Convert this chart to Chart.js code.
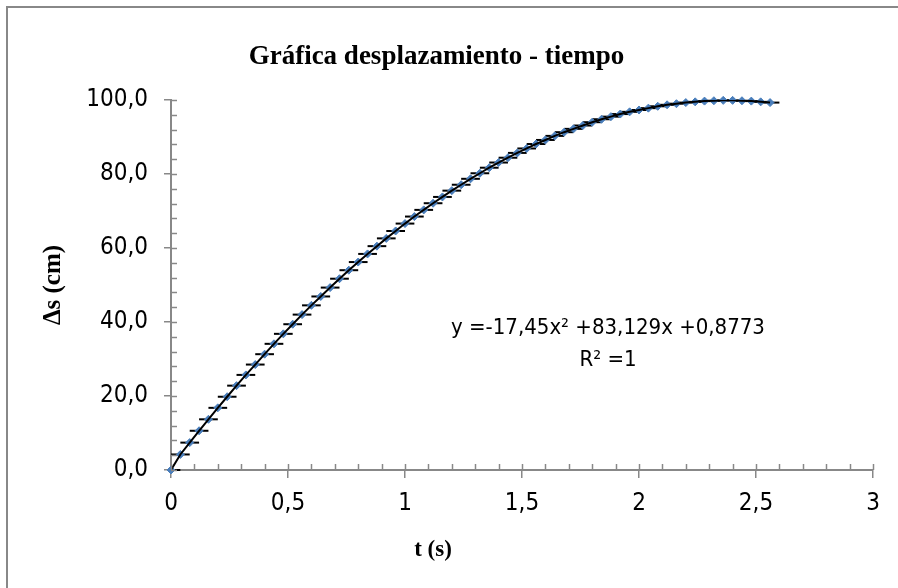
<!DOCTYPE html>
<html lang="es">
<head>
  <meta charset="UTF-8" />
  <title>Gráfica desplazamiento - tiempo</title>
  <script src="https://cdn.jsdelivr.net/npm/chart.js"></script>
  <style>
    html, body { margin: 0; padding: 0; background: #ffffff; }
    canvas { display: block; }
  </style>
</head>
<body>
  <canvas id="graficaDesplazamiento" width="898" height="588"></canvas>

  <script>
    // datos (t en s, desplazamiento en cm)
    var tiempos = [0.00, 0.04, 0.08, 0.12, 0.16, 0.20, 0.24, 0.28, 0.32, 0.36, 0.40, 0.44, 0.48,
      0.52, 0.56, 0.60, 0.64, 0.68, 0.72, 0.76, 0.80, 0.84, 0.88, 0.92, 0.96, 1.00, 1.04, 1.08,
      1.12, 1.16, 1.20, 1.24, 1.28, 1.32, 1.36, 1.40, 1.44, 1.48, 1.52, 1.56, 1.60, 1.64, 1.68,
      1.72, 1.76, 1.80, 1.84, 1.88, 1.92, 1.96, 2.00, 2.04, 2.08, 2.12, 2.16, 2.20, 2.24, 2.28,
      2.32, 2.36, 2.40, 2.44, 2.48, 2.52, 2.56];
    var desplazamientos = [0.0, 4.2, 7.4, 10.6, 13.7, 16.8, 19.8, 22.8, 25.7, 28.5, 31.3, 34.1, 36.8,
      39.4, 42.0, 44.5, 46.9, 49.3, 51.7, 54.0, 56.2, 58.4, 60.5, 62.6, 64.6, 66.6, 68.5, 70.3,
      72.1, 73.8, 75.5, 77.1, 78.7, 80.2, 81.7, 83.1, 84.4, 85.7, 86.9, 88.1, 89.2, 90.3, 91.3,
      92.2, 93.1, 94.0, 94.8, 95.5, 96.2, 96.8, 97.3, 97.8, 98.3, 98.7, 99.0, 99.3, 99.5, 99.7,
      99.8, 99.9, 99.9, 99.8, 99.7, 99.5, 99.3];
    var errorTiempo = 0.04;
    var ticksX = [0, 0.5, 1, 1.5, 2, 2.5, 3];
    var ticksY = [0, 20, 40, 60, 80, 100];
    var ecuacion = ['y =-17,45x² +83,129x +0,8773', 'R² =1'];
    var tituloX = 't (s)';
    var tituloY = 'Δs (cm)';
    var titulo = 'Gráfica desplazamiento - tiempo';

    var fuenteNumeros = "'DejaVu Sans Condensed', 'DejaVu Sans', sans-serif";
    var fuenteTitulos = "'Liberation Serif', 'Times New Roman', serif";
    var gris = '#888888';

    var puntos = [];
    for (var i = 0; i < tiempos.length; i++) {
      puntos.push({ x: tiempos[i], y: desplazamientos[i] });
    }

    function conComa(v) {
      return String(v).replace('.', ',');
    }

    var extras = {
      id: 'extras',
      beforeDraw: function (chart) {
        var ctx = chart.ctx;
        ctx.save();
        ctx.strokeStyle = gris;
        ctx.lineWidth = 2;
        ctx.strokeRect(7, 7, 1000, 1000);
        ctx.restore();
      },
      beforeDatasetsDraw: function (chart) {
        // barras de error horizontales
        var ctx = chart.ctx;
        var sx = chart.scales.x;
        var sy = chart.scales.y;
        var a = chart.chartArea;
        ctx.save();
        ctx.beginPath();
        ctx.rect(a.left, a.top - 5, a.right - a.left, a.bottom - a.top + 10);
        ctx.clip();
        ctx.strokeStyle = '#000000';
        ctx.lineWidth = 2;
        for (var i = 0; i < tiempos.length; i++) {
          var y = sy.getPixelForValue(desplazamientos[i]);
          ctx.beginPath();
          ctx.moveTo(sx.getPixelForValue(tiempos[i] - errorTiempo), y);
          ctx.lineTo(sx.getPixelForValue(tiempos[i] + errorTiempo), y);
          ctx.stroke();
        }
        ctx.restore();
      },
      afterDraw: function (chart) {
        var ctx = chart.ctx;
        var sx = chart.scales.x;
        var sy = chart.scales.y;
        var a = chart.chartArea;
        ctx.save();
        ctx.strokeStyle = gris;
        ctx.lineWidth = 1.5;
        // marcas menores hacia dentro
        var v, p;
        for (v = 0; v <= 3.0001; v += 0.1) {
          p = Math.round(sx.getPixelForValue(v)) + 0.5;
          ctx.beginPath();
          ctx.moveTo(p, a.bottom);
          ctx.lineTo(p, a.bottom - 6);
          ctx.stroke();
        }
        for (v = 0; v <= 100.001; v += 4) {
          p = Math.round(sy.getPixelForValue(v)) + 0.5;
          ctx.beginPath();
          ctx.moveTo(a.left, p);
          ctx.lineTo(a.left + 6, p);
          ctx.stroke();
        }

        ctx.fillStyle = '#000000';
        ctx.textAlign = 'center';
        ctx.textBaseline = 'middle';
        ctx.font = 'bold 23px ' + fuenteTitulos;
        ctx.fillText(tituloX, 433, 550);

        ctx.font = '22px ' + fuenteNumeros;
        ctx.textBaseline = 'alphabetic';
        ctx.fillText(ecuacion[0], 608, 334);
        ctx.fillText(ecuacion[1], 608, 366);
        ctx.restore();
      }
    };

    var ctxGrafica = document.getElementById('graficaDesplazamiento').getContext('2d');
    new Chart(ctxGrafica, {
      type: 'scatter',
      data: {
        datasets: [{
          label: 'Tendencia',
          data: puntos,
          showLine: true,
          borderColor: '#000000',
          borderWidth: 2,
          pointRadius: 0,
          pointHoverRadius: 0,
          fill: false,
          order: 0
        }, {
          label: 'Δs',
          data: puntos,
          pointStyle: 'rectRot',
          pointRadius: 4,
          backgroundColor: '#4a7ebb',
          borderColor: '#4a7ebb',
          borderWidth: 1,
          clip: false,
          order: 1
        }]
      },
      options: {
        responsive: false,
        animation: false,
        layout: { padding: { left: 0, top: 0, right: 25, bottom: 0 } },
        plugins: {
          legend: { display: false },
          tooltip: { enabled: false },
          title: {
            display: true,
            text: titulo,
            color: '#000000',
            font: { family: fuenteTitulos, size: 27, weight: 'bold' },
            padding: { top: 41, bottom: 26.6 }
          }
        },
        scales: {
          x: {
            type: 'linear',
            min: 0,
            max: 3,
            afterBuildTicks: function (scale) {
              scale.ticks = ticksX.map(function (v) { return { value: v }; });
            },
            afterFit: function (scale) { scale.height = 118; },
            grid: { drawOnChartArea: false, drawTicks: true, tickLength: 8, color: gris, lineWidth: 1.5 },
            border: { color: gris, width: 2 },
            ticks: {
              color: '#000000',
              padding: 11,
              font: { family: fuenteNumeros, size: 24 },
              callback: function (v) { return conComa(v); }
            }
          },
          y: {
            type: 'linear',
            min: 0,
            max: 100,
            afterBuildTicks: function (scale) {
              scale.ticks = ticksY.map(function (v) { return { value: v }; });
            },
            afterFit: function (scale) { scale.width = 171; },
            grid: { drawOnChartArea: false, drawTicks: true, tickLength: 7, color: gris, lineWidth: 1.5 },
            border: { color: gris, width: 2 },
            title: {
              display: true,
              text: tituloY,
              color: '#000000',
              font: { family: fuenteTitulos, size: 25, weight: 'bold' },
              padding: { top: 39, bottom: 0 }
            },
            ticks: {
              color: '#000000',
              padding: 16,
              font: { family: fuenteNumeros, size: 24 },
              callback: function (v) { return v.toFixed(1).replace('.', ','); }
            }
          }
        }
      },
      plugins: [extras]
    });
  </script>
</body>
</html>
